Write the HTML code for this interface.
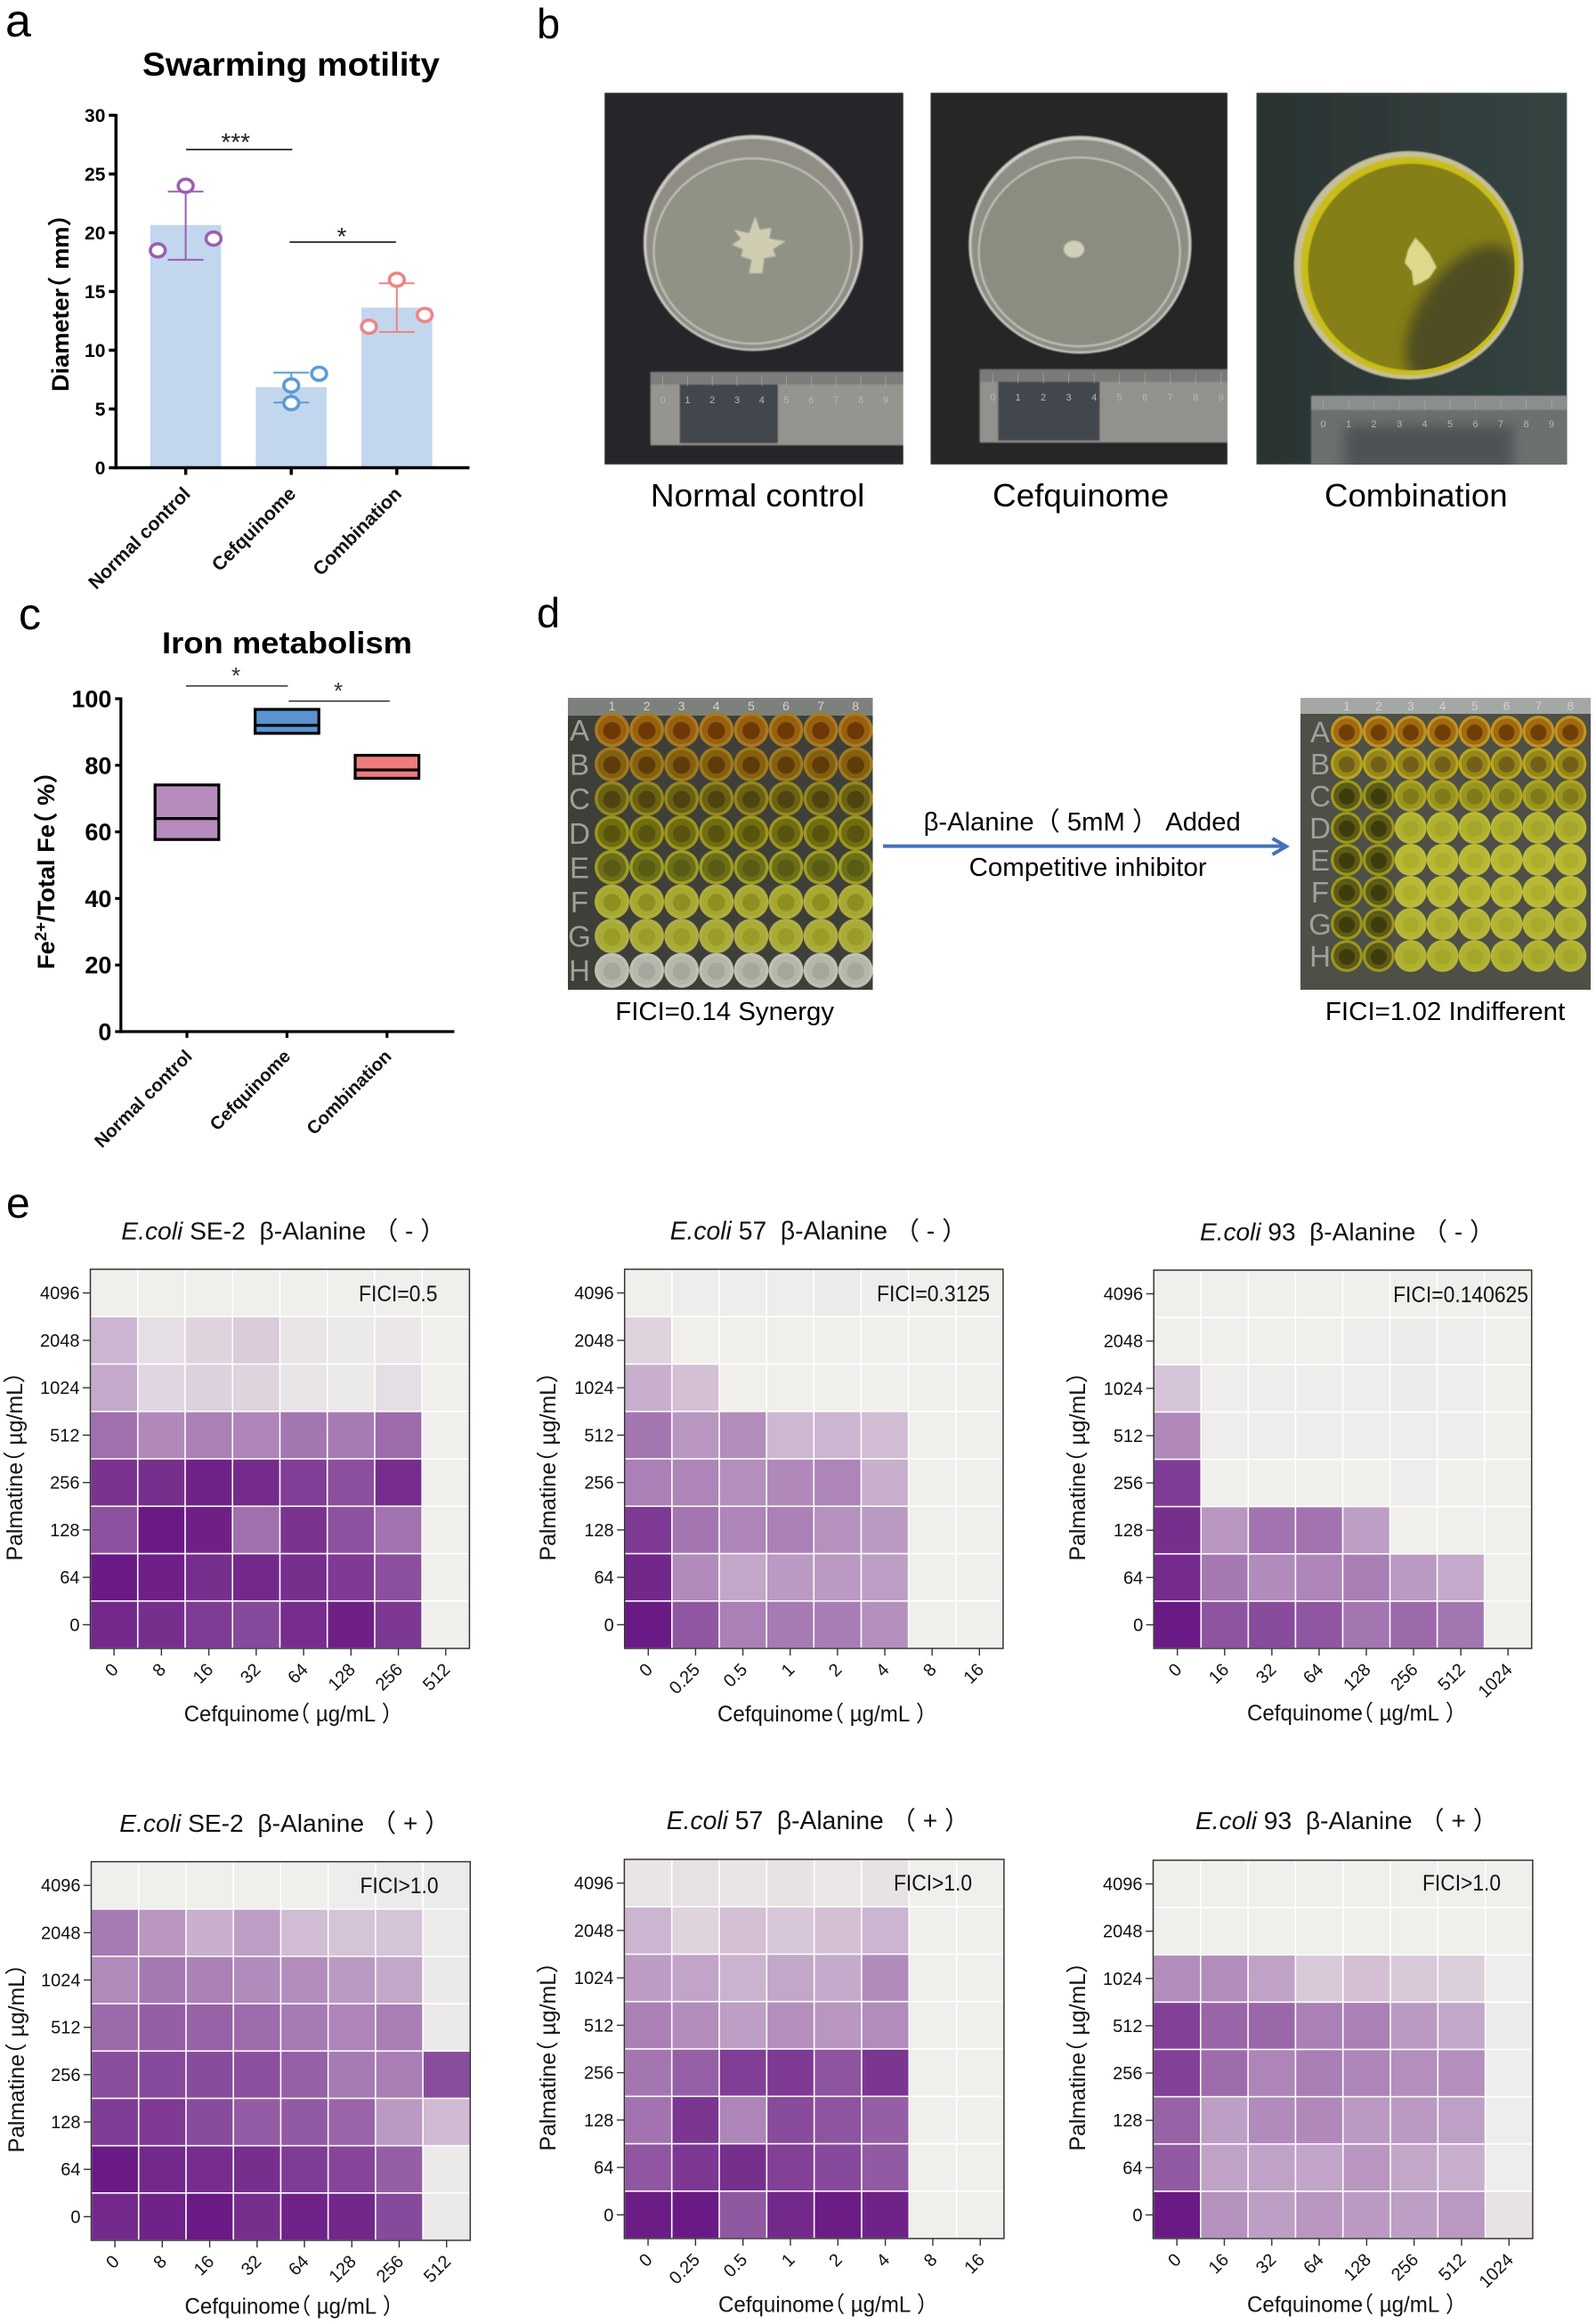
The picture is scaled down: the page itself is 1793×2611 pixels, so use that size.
<!DOCTYPE html>
<html lang="en">
<head>
<meta charset="utf-8">
<title>Swarming motility, iron metabolism and FICI checkerboards</title>
<style>
html,body{margin:0;padding:0;background:#fff;}
svg{display:block;font-family:"Liberation Sans","Noto Sans CJK SC",sans-serif;}
.halt{font-feature-settings:"halt" 1;}
</style>
</head>
<body>
<svg id="fig" xmlns="http://www.w3.org/2000/svg" width="1793" height="2611" viewBox="0 0 1793 2611">
  <defs>
    <filter id="soft" x="-5%" y="-5%" width="110%" height="110%"><feGaussianBlur stdDeviation="0.8"/></filter>
    <filter id="soft3" x="-30%" y="-30%" width="160%" height="160%"><feGaussianBlur stdDeviation="7"/></filter>
    <clipPath id="clip-b1"><rect x="679" y="104" width="336" height="418"/></clipPath>
    <clipPath id="clip-b2"><rect x="1045.2" y="104" width="334" height="418"/></clipPath>
    <clipPath id="clip-b3"><rect x="1411.3" y="104" width="349.3" height="418"/></clipPath>
    <clipPath id="clip-plate3"><ellipse cx="1585.5" cy="300" rx="116" ry="116"/></clipPath>
    <linearGradient id="bg3" x1="0" y1="0" x2="1" y2="0"><stop offset="0" stop-color="#2a3231"/><stop offset="1" stop-color="#354342"/></linearGradient>
  </defs>
  <rect width="1793" height="2611" fill="#fff"/>

  <!-- panel b photographs -->
  <g clip-path="url(#clip-b1)" filter="url(#soft)">
    <rect x="679" y="104" width="336" height="418" fill="#272629"/>
    <ellipse cx="846.2" cy="273" rx="123" ry="121" fill="#cfccc5"/>
    <ellipse cx="846.2" cy="274" rx="120" ry="118" fill="#8f8d85"/>
    <ellipse cx="845.5" cy="282" rx="112" ry="105" fill="#c4c2ba"/>
    <ellipse cx="845.5" cy="282" rx="110" ry="103" fill="#8f9285"/>
    <polygon transform="translate(-1.5 0)" points="850,243 855,258 868,256 866,268 884,271 870,280 873,288 860,290 858,307 843,307 846,292 834,288 836,280 824,275 834,268 826,258 843,262" fill="#cfccb2"/>
    <rect x="730.9" y="418" width="284.1" height="82" fill="#96948f"/>
    <rect x="763.6" y="432" width="110.4" height="66" fill="#42464d"/>
    <rect x="730.9" y="418" width="284.1" height="14" fill="#7d7d7a"/>
  </g>
  <g clip-path="url(#clip-b2)" filter="url(#soft)">
    <rect x="1045.2" y="104" width="334" height="418" fill="#282727"/>
    <ellipse cx="1213.4" cy="275" rx="124.8" ry="122" fill="#cfccc5"/>
    <ellipse cx="1213.4" cy="276" rx="122" ry="119" fill="#8e8d86"/>
    <ellipse cx="1212.6" cy="283" rx="114" ry="107" fill="#c4c2ba"/>
    <ellipse cx="1212.6" cy="283" rx="112" ry="105" fill="#8b8d81"/>
    <ellipse cx="1206.5" cy="280" rx="11.5" ry="9.5" fill="#d0cfb8"/>
    <rect x="1100.8" y="415" width="278.5" height="82" fill="#92918d"/>
    <rect x="1121.3" y="429" width="114.2" height="66" fill="#42464d"/>
    <rect x="1100.8" y="415" width="278.5" height="14" fill="#7a7a78"/>
  </g>
  <g clip-path="url(#clip-b3)">
    <g filter="url(#soft)">
      <rect x="1411.3" y="104" width="349.3" height="418" fill="url(#bg3)"/>
      <ellipse cx="1582.5" cy="298" rx="128.6" ry="128" fill="#c5c09c"/>
      <ellipse cx="1584" cy="299" rx="123" ry="123" fill="#c9bd1e"/>
      <ellipse cx="1585.5" cy="300" rx="116" ry="116" fill="#847f14"/>
    </g>
    <g clip-path="url(#clip-plate3)">
      <ellipse cx="1642" cy="352" rx="46" ry="88" transform="rotate(35 1642 352)" fill="#4f4e24" filter="url(#soft3)"/>
    </g>
    <g filter="url(#soft)">
      <polygon points="1590,267 1598,275 1606,285 1614,300 1606,312 1596,318 1588,321 1586,305 1578,295 1582,280" fill="#dcd88c"/>
      <rect x="1472.9" y="444.5" width="287.7" height="78" fill="#6c7070"/>
      <rect x="1472.9" y="444.5" width="287.7" height="16" fill="#8b8e8c"/>
    </g>
    <rect x="1510" y="478" width="190" height="50" fill="#4d5254" filter="url(#soft3)"/>
  </g>
  <g id="ruler-marks"></g>

  <!-- panel d well plates -->
  <g>
    <rect x="638" y="784" width="342.5" height="328" fill="#3f3f39"/>
    <rect x="638" y="784" width="342.5" height="20" fill="#7d817c"/>
    <g id="plate-one"></g>
  </g>
  <g>
    <rect x="1461" y="784" width="326" height="328" fill="#4e4f46"/>
    <rect x="1461" y="784" width="326" height="18" fill="#a4a8a4"/>
    <g id="plate-two"></g>
  </g>
  <line x1="992" y1="950.6" x2="1443" y2="950.6" stroke="#4472b8" stroke-width="4"/>
  <polyline points="1429.5,942 1445,951 1429.5,960" fill="none" stroke="#4472b8" stroke-width="4"/>

  <!-- static captions -->
  <g fill="#000">
    <text x="6" y="41" font-size="52">a</text>
    <text x="603" y="43" font-size="47">b</text>
    <text x="21" y="707" font-size="50">c</text>
    <text x="603" y="705" font-size="47">d</text>
    <text x="7" y="1368" font-size="48">e</text>
    <text x="730.9" y="569" font-size="36" textLength="240.5" lengthAdjust="spacingAndGlyphs">Normal control</text>
    <text x="1115.2" y="569" font-size="36" textLength="198" lengthAdjust="spacingAndGlyphs">Cefquinome</text>
    <text x="1488" y="569" font-size="36" textLength="205.6" lengthAdjust="spacingAndGlyphs">Combination</text>
    <text x="691.3" y="1146" font-size="29" textLength="245.8" lengthAdjust="spacingAndGlyphs">FICI=0.14 Synergy</text>
    <text x="1488.9" y="1146" font-size="29" textLength="269.4" lengthAdjust="spacingAndGlyphs">FICI=1.02 Indifferent</text>
    <text x="1037.6" y="933" font-size="29" textLength="356.2" lengthAdjust="spacingAndGlyphs">β-Alanine（ 5mM ） Added</text>
    <text x="1088.6" y="984" font-size="29" textLength="267.1" lengthAdjust="spacingAndGlyphs">Competitive inhibitor</text>
  </g>

  <g id="chart-a"></g>
  <g id="chart-c"></g>
  <g id="heatmaps"></g>
</svg>

<script>
// ---- chart a data ----
const swarmCategories = ['Normal control', 'Cefquinome', 'Combination'];
const swarmMeans = [20.66, 6.86, 13.63];
const swarmErrHigh = [23.5, 8.1, 15.7];
const swarmErrLow = [17.7, 5.55, 11.55];
const swarmPoints = [[18.5, 24, 19.5], [5.5, 7, 8], [12, 16, 13]];
const swarmTicks = [0, 5, 10, 15, 20, 25, 30];

// ---- chart c data ----
const ironCategories = ['Normal control', 'Cefquinome', 'Combination'];
const ironLow = [57.7, 89.6, 76.1];
const ironMedian = [64, 92, 78.6];
const ironHigh = [74.1, 96.8, 83];
const ironTicks = [0, 20, 40, 60, 80, 100];

// ---- heatmap data: rows listed from 4096 down to 0, values are growth intensity 0-100 ----
const palmatineLabels = ['4096', '2048', '1024', '512', '256', '128', '64', '0'];
const cefSE2Labels = ['0', '8', '16', '32', '64', '128', '256', '512'];
const cef57Labels = ['0', '0.25', '0.5', '1', '2', '4', '8', '16'];
const cef93Labels = ['0', '16', '32', '64', '128', '256', '512', '1024'];
const heatSE2Minus = [
  [0,0,0,0,0,0,0,0],
  [27,8,13,17,5,3,4,0],
  [33,12,14,13,5,3,8,0],
  [60,48,52,50,57,55,62,0],
  [88,90,96,92,83,75,91,0],
  [74,100,97,60,88,74,58,0],
  [100,97,90,93,90,85,75,0],
  [93,90,84,78,91,97,86,0]
];
const heat57Minus = [
  [0,1,1,1,2,1,0,0],
  [13,0,0,0,0,0,0,0],
  [30,22,0,0,0,0,0,0],
  [57,42,46,26,27,24,0,0],
  [52,50,45,48,50,30,0,0],
  [85,57,50,52,44,40,0,0],
  [94,47,34,40,40,38,0,0],
  [100,72,52,55,54,45,0,0]
];
const heat93Minus = [
  [0,0,0,0,0,0,0,0],
  [0,0,0,0,1,2,1,0],
  [20,1,1,1,1,2,1,0],
  [48,1,1,1,1,1,1,0],
  [84,0,0,0,0,1,0,0],
  [90,42,58,58,38,0,0,0],
  [92,56,47,50,53,40,33,0],
  [100,73,77,72,57,63,57,0]
];
const heatSE2Plus = [
  [0,0,0,0,0,1,2,2],
  [55,42,30,38,24,20,20,2],
  [47,56,52,47,46,40,34,3],
  [63,68,66,62,55,50,53,3],
  [76,78,77,75,67,55,53,76],
  [84,85,77,69,70,65,40,25],
  [100,93,91,90,84,80,68,3],
  [93,96,100,90,96,94,78,3]
];
const heat57Plus = [
  [5,7,5,6,4,6,0,0],
  [27,13,22,19,22,27,0,0],
  [39,35,28,34,32,47,0,0],
  [52,46,38,45,42,46,0,0],
  [57,67,83,85,73,87,0,0],
  [58,87,50,77,73,68,0,0],
  [72,86,90,82,78,70,0,0],
  [99,100,71,93,99,96,0,0]
];
const heat93Plus = [
  [0,0,0,0,0,0,0,0],
  [0,0,0,0,0,0,0,0],
  [46,46,36,18,22,18,15,1],
  [82,65,64,52,52,40,34,2],
  [82,62,50,53,50,45,45,1],
  [66,38,47,48,40,40,37,1],
  [70,36,36,35,42,34,30,1],
  [100,44,38,42,40,38,41,6]
];

// ---- helpers ----
const NS = 'http://www.w3.org/2000/svg';
function mk(tag, parent, props) {
  const el = document.createElementNS(NS, tag);
  for (const k in props) el.setAttribute(k, props[k]);
  parent.appendChild(el);
  return el;
}
function label(parent, str, x, y, o) {
  const el = mk('text', parent, { x: x, y: y, 'font-size': o.size, fill: o.fill || '#000' });
  if (o.weight) el.setAttribute('font-weight', o.weight);
  if (o.anchor) el.setAttribute('text-anchor', o.anchor);
  if (o.len) { el.setAttribute('textLength', o.len); el.setAttribute('lengthAdjust', 'spacingAndGlyphs'); }
  if (o.rot) el.setAttribute('transform', 'rotate(' + o.rot + ' ' + x + ' ' + y + ')');
  if (o.halt) el.setAttribute('class', 'halt');
  if (str) el.textContent = str;
  return el;
}
// Scale the font of a multi-span text so that it occupies the measured width.
function fitWidth(el, size, target) {
  const w = el.getComputedTextLength();
  if (w > 0) el.setAttribute('font-size', (size * target / w).toFixed(2));
}

// ---- chart a: bars with points ----
(function () {
  const g = document.getElementById('chart-a');
  const yA = v => 525.5 - v * 13.2;
  const xA = i => 208.6 + 118.6 * i;
  const colors = ['#9a5fb0', '#5b9bd5', '#ee8484'];
  const dotOffsets = [[-31.3, 0, 31.3], [0, 0, 31.3], [-31.3, 0, 31.3]];

  swarmCategories.forEach((c, i) => {
    const bar = mk('rect', g, { x: xA(i) - 39.8, y: yA(swarmMeans[i]), width: 79.6, height: yA(0) - yA(swarmMeans[i]), fill: '#c2d7ee' });
    
    
  });
  swarmCategories.forEach((c, i) => {
    const stem = mk('line', g, { x1: xA(i), x2: xA(i), y1: yA(swarmErrLow[i]), y2: yA(swarmErrHigh[i]), stroke: colors[i], 'stroke-width': 2 });
    
    
    const capHigh = mk('line', g, { x1: xA(i) - 20, x2: xA(i) + 20, y1: yA(swarmErrHigh[i]), y2: yA(swarmErrHigh[i]), stroke: colors[i], 'stroke-width': 2 });
    
    
    const capLow = mk('line', g, { x1: xA(i) - 20, x2: xA(i) + 20, y1: yA(swarmErrLow[i]), y2: yA(swarmErrLow[i]), stroke: colors[i], 'stroke-width': 2 });
    
    
    swarmPoints[i].forEach((p, j) => {
      const dot = mk('ellipse', g, { cx: xA(i) + dotOffsets[i][j], cy: yA(p), rx: 8.4, ry: 7.4, fill: '#fff', stroke: colors[i], 'stroke-width': 3.6 });
      
      
    });
    const tick = mk('line', g, { x1: xA(i), x2: xA(i), y1: yA(0), y2: yA(0) + 8, stroke: '#000', 'stroke-width': 3.5 });
    
    
    const cat = label(g, c, xA(i) + 6.5, 556, { size: 21.3, weight: 'bold', anchor: 'end', rot: -45, fill: '#111' });
    
    
  });
  swarmTicks.forEach(t => {
    const tick = mk('line', g, { x1: 122.3, x2: 130.3, y1: yA(t), y2: yA(t), stroke: '#000', 'stroke-width': 3.5 });
    
    
    const tl = label(g, String(t), 118.4, yA(t) + 7.5, { size: 21, weight: 'bold', anchor: 'end' });
    
    
  });
  const yAxis = mk('line', g, { x1: 130.3, x2: 130.3, y1: yA(30) - 1.5, y2: yA(0) + 1.7, stroke: '#000', 'stroke-width': 3.5 });
  
  
  const xAxis = mk('line', g, { x1: 130.3, x2: 527.4, y1: yA(0), y2: yA(0), stroke: '#000', 'stroke-width': 3.5 });
  
  

  const title = label(g, 'Swarming motility', 160, 85, { size: 37, weight: 'bold', len: 334 });
  
  
  const yTitle = label(g, 'Diameter（\u00a0mm）', 77, 340.5, { size: 27, weight: 'bold', anchor: 'middle', rot: -90, len: 199, halt: true });
  
  

  const sig1 = mk('line', g, { x1: 209, x2: 328.4, y1: 168, y2: 168, stroke: '#000', 'stroke-width': 1.6 });
  
  
  const star1 = label(g, '***', 264.7, 169, { size: 28, anchor: 'middle', fill: '#222' });
  
  
  const sig2 = mk('line', g, { x1: 325.4, x2: 444.8, y1: 272, y2: 272, stroke: '#000', 'stroke-width': 1.6 });
  
  
  const star2 = label(g, '*', 384, 275, { size: 28, anchor: 'middle', fill: '#222' });
  
  
})();

// ---- chart c: floating boxes ----
(function () {
  const g = document.getElementById('chart-c');
  const yC = v => 1159 - v * 3.74;
  const xC = i => 210 + 112.4 * i;
  const fills = ['#b68bbd', '#5b93d0', '#ee7c7c'];
  const labelEnds = [217, 327.5, 441];

  ironCategories.forEach((c, i) => {
    const box = mk('rect', g, { x: xC(i) - 35.8, y: yC(ironHigh[i]), width: 71.6, height: yC(ironLow[i]) - yC(ironHigh[i]), fill: fills[i], stroke: '#000', 'stroke-width': 3.2 });
    
    
    const med = mk('line', g, { x1: xC(i) - 35.8, x2: xC(i) + 35.8, y1: yC(ironMedian[i]), y2: yC(ironMedian[i]), stroke: '#000', 'stroke-width': 3.2 });
    
    
    const tick = mk('line', g, { x1: xC(i), x2: xC(i), y1: yC(0), y2: yC(0) + 7, stroke: '#000', 'stroke-width': 3.2 });
    
    
    const cat = label(g, c, labelEnds[i], 1188, { size: 20.4, weight: 'bold', anchor: 'end', rot: -45, fill: '#111' });
    
    
  });
  ironTicks.forEach(t => {
    const tick = mk('line', g, { x1: 129.3, x2: 135.8, y1: yC(t), y2: yC(t), stroke: '#000', 'stroke-width': 3.2 });
    
    
    const tl = label(g, String(t), 125.4, yC(t) + 9.5, { size: 27, weight: 'bold', anchor: 'end' });
    
    
  });
  const yAxis = mk('line', g, { x1: 135.8, x2: 135.8, y1: yC(100) - 1.5, y2: yC(0) + 1.6, stroke: '#000', 'stroke-width': 3.2 });
  
  
  const xAxis = mk('line', g, { x1: 135.8, x2: 510.4, y1: yC(0), y2: yC(0), stroke: '#000', 'stroke-width': 3.2 });
  
  

  const title = label(g, 'Iron metabolism', 182, 734, { size: 34, weight: 'bold', len: 281 });
  
  

  const yTitle = label(g, '', 61, 978, { size: 25, weight: 'bold', anchor: 'middle', rot: -90, halt: true });
  
  
  const t1 = mk('tspan', yTitle, {});
  t1.textContent = 'Fe';
  const t2 = mk('tspan', yTitle, { dy: -9, 'font-size': '0.68em' });
  t2.textContent = '2+';
  const t3 = mk('tspan', yTitle, { dy: 9 });
  t3.textContent = '/Total Fe（\u00a0%）';
  fitWidth(yTitle, 25, 222);

  const sig1 = mk('line', g, { x1: 209, x2: 323.4, y1: 770.7, y2: 770.7, stroke: '#222', 'stroke-width': 1.4 });
  
  
  const star1 = label(g, '*', 265, 768, { size: 26, anchor: 'middle', fill: '#333' });
  
  
  const sig2 = mk('line', g, { x1: 324.4, x2: 437.8, y1: 787.7, y2: 787.7, stroke: '#222', 'stroke-width': 1.4 });
  
  
  const star2 = label(g, '*', 380, 785, { size: 26, anchor: 'middle', fill: '#333' });
  
  
})();

// ---- heatmaps ----
function heatColor(v) {
  const t = Math.max(0, Math.min(100, v)) / 100;
  const r = Math.round(240 + (106 - 240) * t);
  const gr = Math.round(239 + (26 - 239) * t);
  const b = Math.round(236 + (132 - 236) * t);
  return 'rgb(' + r + ',' + gr + ',' + b + ')';
}
function drawHeatmap(key, values, xLabels, strain, sign, fici, box, pos) {
  const root = document.getElementById('heatmaps');
  const g = mk('g', root, {});
  
  
  const cols = xLabels.length, rows = palmatineLabels.length;
  const cw = (box.x1 - box.x0) / cols, ch = (box.y1 - box.y0) / rows;
  const xH = i => box.x0 + cw * (i + 0.5);
  const yH = i => box.y0 + ch * (i + 0.5);

  const bg = mk('rect', g, { x: box.x0, y: box.y0, width: box.x1 - box.x0, height: box.y1 - box.y0, fill: '#fff' });
  
  
  values.forEach((row, r) => {
    row.forEach((v, c) => {
      const cell = mk('rect', g, { x: xH(c) - cw / 2 + 0.8, y: yH(r) - ch / 2 + 0.8, width: cw - 1.6, height: ch - 1.6, fill: heatColor(v) });
      
      
    });
  });
  const frame = mk('rect', g, { x: box.x0, y: box.y0, width: box.x1 - box.x0, height: box.y1 - box.y0, fill: 'none', stroke: '#333', 'stroke-width': 1.5 });
  
  

  palmatineLabels.forEach((t, r) => {
    const tick = mk('line', g, { x1: box.x0 - 8.5, x2: box.x0, y1: yH(r), y2: yH(r), stroke: '#333', 'stroke-width': 1.4 });
    
    
    const tl = label(g, t, box.x0 - 12, yH(r) + 7, { size: 20, anchor: 'end', fill: '#111' });
    
    
  });
  xLabels.forEach((t, c) => {
    const tick = mk('line', g, { x1: xH(c), x2: xH(c), y1: box.y1, y2: box.y1 + 8, stroke: '#333', 'stroke-width': 1.4 });
    
    
    const tl = label(g, t, xH(c) + 6, box.y1 + 25, { size: 20, anchor: 'end', rot: -45, fill: '#111' });
    
    
  });

  const title = label(g, '', pos.tx0, pos.ty, { size: 26, fill: '#111' });
  
  
  const ital = mk('tspan', title, { 'font-style': 'italic' });
  ital.textContent = 'E.coli';
  const rest = mk('tspan', title, {});
  rest.textContent = '\u00a0' + strain + '\u00a0\u00a0β-Alanine\u00a0（\u00a0' + sign + '\u00a0）';
  // the closing full-width bracket leaves blank space after its ink, so measure past the visible end
  fitWidth(title, 26, pos.tx1 - pos.tx0 + 18);

  const ficiText = label(g, fici, pos.fx0, pos.fy, { size: 25, len: pos.fx1 - pos.fx0, fill: '#111' });
  
  

  const xTitle = label(g, 'Cefquinome（\u00a0µg/mL\u00a0）', pos.lx0, pos.ly, { size: 25, len: pos.lx1 - pos.lx0 + 3, fill: '#111', halt: true });
  
  
  const yTitle = label(g, 'Palmatine（\u00a0µg/mL）', pos.yb, pos.yc - 1.5, { size: 25, anchor: 'middle', rot: -90, len: 212, fill: '#111', halt: true });
  
  
}
drawHeatmap('se2-minus', heatSE2Minus, cefSE2Labels, 'SE-2', '-', 'FICI=0.5',
  { x0: 101.5, x1: 527.4, y0: 1426, y1: 1852 },
  { tx0: 136.3, tx1: 482.6, ty: 1392.6, fx0: 403, fx1: 491.5, fy: 1462, lx0: 206.7, lx1: 437.8, ly: 1934, yb: 25, yc: 1649 });
drawHeatmap('57-minus', heat57Minus, cef57Labels, '57', '-', 'FICI=0.3125',
  { x0: 701.7, x1: 1126.9, y0: 1426, y1: 1852 },
  { tx0: 752.7, tx1: 1068.6, ty: 1392.6, fx0: 985, fx1: 1112, fy: 1462, lx0: 806, lx1: 1038, ly: 1934, yb: 624, yc: 1649 });
drawHeatmap('93-minus', heat93Minus, cef93Labels, '93', '-', 'FICI=0.140625',
  { x0: 1296.2, x1: 1720.7, y0: 1427, y1: 1852 },
  { tx0: 1348, tx1: 1661, ty: 1393.4, fx0: 1565.1, fx1: 1717, fy: 1463, lx0: 1401, lx1: 1632.8, ly: 1933, yb: 1219, yc: 1649 });
drawHeatmap('se2-plus', heatSE2Plus, cefSE2Labels, 'SE-2', '+', 'FICI>1.0',
  { x0: 102.5, x1: 528.3, y0: 2091.6, y1: 2517 },
  { tx0: 134.3, tx1: 487.5, ty: 2058, fx0: 404.5, fx1: 492.5, fy: 2127, lx0: 207.5, lx1: 438.8, ly: 2599.5, yb: 27, yc: 2314 });
drawHeatmap('57-plus', heat57Plus, cef57Labels, '57', '+', 'FICI>1.0',
  { x0: 701.4, x1: 1127.9, y0: 2089, y1: 2515 },
  { tx0: 748.8, tx1: 1071.4, ty: 2055, fx0: 1004, fx1: 1092, fy: 2124, lx0: 807, lx1: 1039, ly: 2597.6, yb: 624, yc: 2312 });
drawHeatmap('93-plus', heat93Plus, cef93Labels, '93', '+', 'FICI>1.0',
  { x0: 1295.5, x1: 1721.9, y0: 2090, y1: 2515 },
  { tx0: 1343, tx1: 1665, ty: 2055, fx0: 1598, fx1: 1686, fy: 2124, lx0: 1401, lx1: 1633, ly: 2597.6, yb: 1219, yc: 2312 });

// ---- ruler scale marks in the photographs ----
(function () {
  const g = document.getElementById('ruler-marks');
  const rulers = [
    { x0: 744.6, step: 27.8, top: 418, digitY: 453, end: 1015, fill: '#b8b8b4' },
    { x0: 1115.2, step: 28.5, top: 415, digitY: 450, end: 1379, fill: '#b8b8b4' },
    { x0: 1486.6, step: 28.5, top: 444.5, digitY: 480, end: 1760, fill: '#b4b6b4' }
  ];
  rulers.forEach(r => {
    for (let d = 0; d < 10; d++) {
      const x = r.x0 + d * r.step;
      if (x > r.end - 6) break;
      const major = mk('line', g, { x1: x, x2: x, y1: r.top + 4, y2: r.top + 16, stroke: r.fill, 'stroke-width': 0.8, opacity: 0.6 });
      
      
      const digit = label(g, String(d), x, r.digitY, { size: 11, anchor: 'middle', fill: r.fill });
      
      
    }
  });
})();

// ---- well plates ----
(function () {
  const rowLetters = ['A', 'B', 'C', 'D', 'E', 'F', 'G', 'H'];
  const colNumbers = ['1', '2', '3', '4', '5', '6', '7', '8'];
  const paletteOne = [
    ['#a87a24', '#98600e', '#6b3806'],
    ['#9c7a22', '#84600e', '#5e3c0a'],
    ['#948620', '#6a6212', '#4e4410'],
    ['#9c9620', '#706c10', '#585410'],
    ['#9c9c28', '#6e6e18', '#585c14'],
    ['#adae3c', '#a6a830', '#8c9020'],
    ['#adae48', '#a8ac34', '#9a9c28'],
    ['#bfc0b4', '#b4b8a8', '#a4a89c']
  ];
  const paletteTwo = [
    ['#c09420', '#a06a10', '#6e3e08'],
    ['#b8a420', '#988618', '#70601a'],
    ['#aca624', '#989420', '#807a18'],
    ['#b8b838', '#b0b030', '#a4a62a'],
    ['#bcbc3a', '#b8b834', '#acae2c'],
    ['#bcbc3a', '#b8b834', '#acae2c'],
    ['#b8b838', '#b4b434', '#a8aa2c'],
    ['#b4b438', '#b0b030', '#a4a62a']
  ];
  const darkWell = ['#9c9620', '#5c5a14', '#3c3c10'];

  function drawWells(id, cx0, stepX, cy0, stepY, rad, palette, darkCols, letterX) {
    const g = document.getElementById(id);
    rowLetters.forEach((letter, r) => {
      const cy = cy0 + stepY * r;
      const letterEl = label(g, letter, letterX, cy + 12, { size: 33, anchor: 'middle', fill: '#9ea09a' });
      
      
      colNumbers.forEach((num, c) => {
        const cx = cx0 + stepX * c;
        const p = (darkCols && c < darkCols && r >= 2) ? darkWell : palette[r];
        const rim = mk('ellipse', g, { cx: cx, cy: cy, rx: rad, ry: rad, fill: p[0] });
        
        
        const mid = mk('ellipse', g, { cx: cx, cy: cy, rx: rad * 0.82, ry: rad * 0.82, fill: p[1] });
        
        
        const core = mk('ellipse', g, { cx: cx, cy: cy + 1, rx: rad * 0.5, ry: rad * 0.5, fill: p[2] });
        
        
      });
    });
    colNumbers.forEach((num, c) => {
      const numEl = label(g, num, cx0 + stepX * c, 798, { size: 14, anchor: 'middle', fill: '#d0d2ce' });
      
      
    });
  }
  drawWells('plate-one', 687.5, 39.1, 820, 38.6, 19.5, paletteOne, 0, 651);
  drawWells('plate-two', 1513, 35.9, 822, 36, 18, paletteTwo, 2, 1483);
})();
</script>
</body>
</html>
